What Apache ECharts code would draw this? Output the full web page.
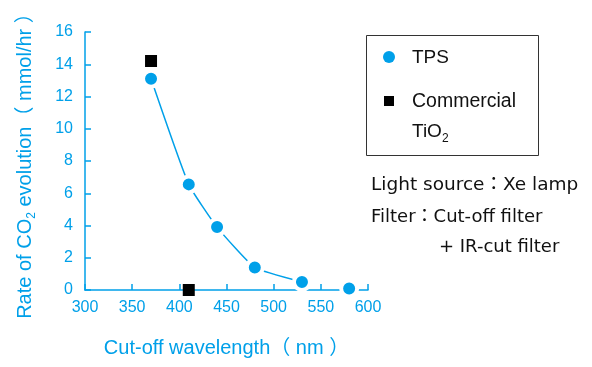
<!DOCTYPE html>
<html>
<head>
<meta charset="utf-8">
<script src="https://cdn.jsdelivr.net/npm/echarts@6/dist/echarts.min.js"></script>
<style>
html,body{margin:0;padding:0;background:#fff;}
#chart{width:592px;height:367px;}
</style>
</head>
<body>
<div id="chart"></div>
<script>
// data
var wavelengthTPS = [370, 410, 440, 480, 530, 580];
var rateTPS = [13.1, 6.55, 3.9, 1.4, 0.5, 0.1];
var wavelengthTiO2 = [370, 410];
var rateTiO2 = [14.2, 0];
var curvePoints = 5; // the guide curve stops at 530 nm
var xTicks = [300, 600, 50]; // min, max, interval
var yTicks = [0, 16, 2];

var blue = '#00a0e9';
var font = '"Liberation Sans","Noto Sans CJK JP",sans-serif';
var noteFont = '"DejaVu Sans","Noto Sans CJK JP",sans-serif';

function pairs(xs, ys, n) {
	var out = [];
	for (var i = 0; i < (n || xs.length); i++) out.push([xs[i], ys[i]]);
	return out;
}

function setRateChart(eleid) {
	var chartObj = echarts.init(document.getElementById(eleid));
	var option = {
		animation: false,
		grid: {left: 85, right: 224, top: 32, bottom: 77},
		xAxis: {
			type: 'value',
			min: xTicks[0], max: xTicks[1], interval: xTicks[2],
			name: 'Cut-off wavelength（ nm ）',
			nameLocation: 'middle',
			nameGap: 48,
			nameTextStyle: {color: blue, fontSize: 20, fontFamily: font},
			axisLine: {lineStyle: {color: blue, width: 1.5}},
			axisTick: {inside: true, length: 6, lineStyle: {color: blue, width: 1.5}},
			axisLabel: {color: blue, fontSize: 16, fontFamily: font, margin: 10},
			splitLine: {show: false}
		},
		yAxis: {
			type: 'value',
			min: yTicks[0], max: yTicks[1], interval: yTicks[2],
			name: 'Rate of CO{sub|2} evolution（ mmol/hr ）',
			nameLocation: 'middle',
			nameRotate: 90,
			nameGap: 50,
			nameTextStyle: {color: blue, fontSize: 20, fontFamily: font, rich: {sub: {fontSize: 12, fontFamily: font, color: blue, verticalAlign: 'bottom', padding: [0, 0, -3, 0]}}},
			axisLine: {show: true, lineStyle: {color: blue, width: 1.5}},
			axisTick: {show: true, inside: true, length: 6, lineStyle: {color: blue, width: 1.5}},
			axisLabel: {color: blue, fontSize: 16, fontFamily: font, margin: 12},
			splitLine: {show: false}
		},
		graphic: [
			{type: 'rect', shape: {x: 366.5, y: 35.5, width: 172, height: 120}, style: {fill: '#fff', stroke: '#333', lineWidth: 1}},
			{type: 'circle', shape: {cx: 389, cy: 57, r: 6}, style: {fill: blue}},
			{type: 'rect', shape: {x: 384, y: 96, width: 10, height: 10}, style: {fill: '#000'}},
			{type: 'text', x: 412, y: 58, style: {text: 'TPS', font: '19px ' + font, fill: '#111', verticalAlign: 'middle'}},
			{type: 'text', x: 412, y: 102, style: {text: 'Commercial', font: '19.5px ' + font, fill: '#111', verticalAlign: 'middle'}},
			{type: 'text', x: 412, y: 132, style: {text: 'TiO{sub|2}', font: '19px ' + font, fill: '#111', verticalAlign: 'middle',
				rich: {sub: {fontSize: 12, fontFamily: font, fill: '#111', verticalAlign: 'bottom', padding: [0, 0, -3, 0]}}}},
			{type: 'text', x: 371, y: 185, style: {text: 'Light source：Xe lamp', font: '18.5px ' + noteFont, fill: '#111', verticalAlign: 'middle'}},
			{type: 'text', x: 371, y: 217, style: {text: 'Filter：Cut-off filter', font: '18px ' + noteFont, fill: '#111', verticalAlign: 'middle'}},
			{type: 'text', x: 439, y: 247, style: {text: '+ IR-cut filter', font: '18px ' + noteFont, fill: '#111', verticalAlign: 'middle'}}
		],
		series: [{
			name: 'TPS curve',
			type: 'line',
			smooth: 0.15,
			showSymbol: false,
			silent: true,
			z: 1,
			lineStyle: {color: blue, width: 1.5},
			data: pairs(wavelengthTPS, rateTPS, curvePoints)
		}, {
			name: 'TPS',
			type: 'scatter',
			symbol: 'circle',
			symbolSize: 16,
			clip: false,
			z: 3,
			itemStyle: {color: blue, opacity: 1, borderColor: '#fff', borderWidth: 4},
			emphasis: {disabled: true},
			data: pairs(wavelengthTPS, rateTPS)
		}, {
			name: 'Commercial TiO2',
			type: 'scatter',
			symbol: 'rect',
			symbolSize: 12,
			clip: false,
			z: 4,
			itemStyle: {color: '#000', opacity: 1},
			emphasis: {disabled: true},
			data: pairs(wavelengthTiO2, rateTiO2)
		}]
	};
	chartObj.setOption(option);
	window.onresize = chartObj.resize;
}

setRateChart('chart');
</script>
</body>
</html>
